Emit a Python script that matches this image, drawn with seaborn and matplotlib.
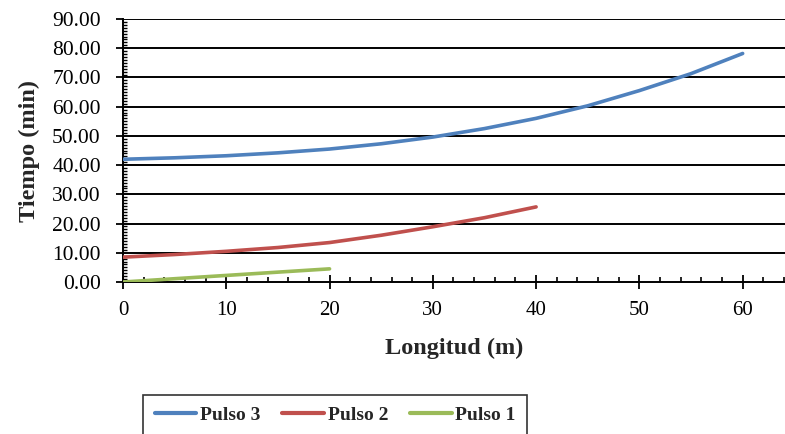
import numpy as np
import pandas as pd
import matplotlib
matplotlib.use("Agg")
import matplotlib.pyplot as plt
from matplotlib.ticker import MultipleLocator, FormatStrFormatter
from matplotlib.lines import Line2D
import seaborn as sns

# Travel time of each pulse along the channel
longitud_p3 = [0, 5, 10, 15, 20, 25, 30, 35, 40, 45, 50, 55, 60]
tiempo_p3 = [42.0, 42.5, 43.2, 44.2, 45.5, 47.3, 49.6, 52.5, 56.0, 60.3, 65.5, 71.3, 78.2]

longitud_p2 = [0, 5, 10, 15, 20, 25, 30, 35, 40]
tiempo_p2 = [8.5, 9.4, 10.5, 11.8, 13.5, 16.0, 18.9, 22.0, 25.7]

longitud_p1 = [0, 10, 20]
tiempo_p1 = [0.0, 2.25, 4.5]

series = ["Pulso 3", "Pulso 2", "Pulso 1"]
colores = ["#4F81BD", "#C0504D", "#9BBB59"]

df = pd.concat([
    pd.DataFrame({"Longitud": longitud_p3, "Tiempo": tiempo_p3, "Serie": "Pulso 3"}),
    pd.DataFrame({"Longitud": longitud_p2, "Tiempo": tiempo_p2, "Serie": "Pulso 2"}),
    pd.DataFrame({"Longitud": longitud_p1, "Tiempo": tiempo_p1, "Serie": "Pulso 1"}),
])

sns.set_style("white")
plt.rcParams["font.family"] = ["Liberation Serif", "DejaVu Serif"]

fig = plt.figure(figsize=(7.85, 4.34), dpi=100)
ax = fig.add_axes([123 / 785, 1 - 282 / 434, 1 - 123 / 785, (282 - 19) / 434])

# Horizontal grid lines at every major y tick
for y in np.arange(10, 91, 10):
    ax.axhline(y, color="black", lw=1.4, zorder=1)

sns.lineplot(data=df, x="Longitud", y="Tiempo", hue="Serie", hue_order=series,
             palette=colores, linewidth=2.6, ax=ax, legend=False, sort=False,
             zorder=3, solid_capstyle="round")

ax.set_xlim(0, 64.1)
ax.set_ylim(0, 90)
ax.xaxis.set_major_locator(MultipleLocator(10))
ax.xaxis.set_minor_locator(MultipleLocator(2))
ax.yaxis.set_major_locator(MultipleLocator(10))
ax.yaxis.set_minor_locator(MultipleLocator(1))
ax.yaxis.set_major_formatter(FormatStrFormatter("%.2f"))

for s in ["top", "right"]:
    ax.spines[s].set_visible(False)
for s in ["left", "bottom"]:
    ax.spines[s].set_color("black")
    ax.spines[s].set_linewidth(1.4)

ax.tick_params(which="both", bottom=True, left=True, top=False, right=False)
ax.tick_params(axis="x", which="major", direction="inout", length=9.5, width=1.3,
               labelsize=15, pad=9, colors="black")
ax.tick_params(axis="x", which="minor", direction="in", length=3.6, width=1.2, colors="black")
ax.tick_params(axis="y", which="major", direction="out", length=5, width=1.3,
               labelsize=15.5, pad=11, colors="black")
ax.tick_params(axis="y", which="minor", direction="in", length=3, width=1.0, colors="black")

ax.set_xlabel("Longitud (m)", fontsize=17.5, fontweight="bold", labelpad=13)
ax.set_ylabel("Tiempo (min)", fontsize=17.5, fontweight="bold", labelpad=9)

handles = [Line2D([], [], color=c, lw=3) for c in colores]
leg = fig.legend(handles, series, loc="upper left", bbox_to_anchor=(143 / 785, 1 - 395 / 434),
                 ncol=3, frameon=True, fancybox=False, edgecolor="black",
                 prop={"weight": "bold", "size": 14}, handlelength=2.15,
                 handletextpad=0.2, columnspacing=1.1, borderpad=0.6,
                 borderaxespad=0)
leg.get_frame().set_linewidth(1.2)

fig.savefig("out.png", dpi=100)
